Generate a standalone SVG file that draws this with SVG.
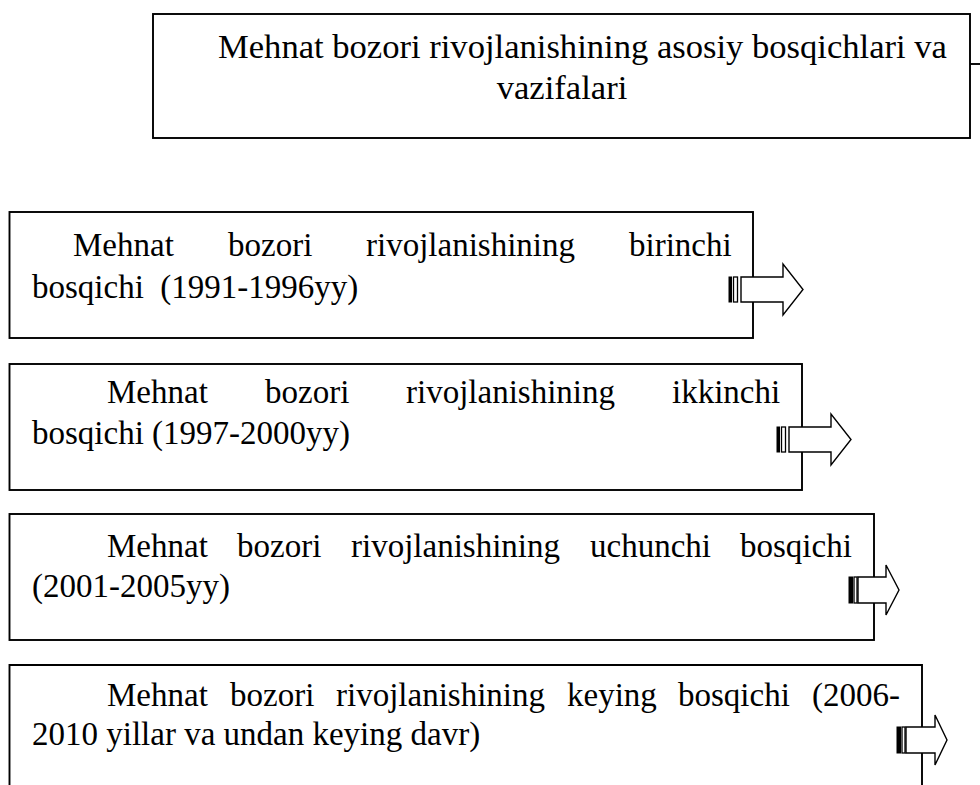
<svg xmlns="http://www.w3.org/2000/svg" width="980" height="785" viewBox="0 0 980 785">
<style>
.box{fill:#fff;stroke:#000;stroke-width:1.9}
.t{font-family:"Liberation Serif","Times New Roman",Times,serif;font-size:33px;fill:#000}
.title{font-family:"Liberation Serif","Times New Roman",Times,serif;font-size:34.6px;fill:#000}
.arr{fill:#fff;stroke:#000;stroke-width:1.4;stroke-linejoin:miter}
.bar{fill:#000;stroke:#000;stroke-width:1}
.bar2{fill:#fff;stroke:#000;stroke-width:1.3}
.ln{fill:none;stroke:#000;stroke-width:1.9}
</style>
<rect width="980" height="785" fill="#fff"/>
<g id="title">
<rect class="box" x="153" y="14" width="817" height="124"/>
<text class="title" x="218" y="58">Mehnat bozori rivojlanishining asosiy bosqichlari va</text>
<text class="title" x="562" y="99" text-anchor="middle">vazifalari</text>
</g>
<g id="stage1">
<rect class="box" x="9.5" y="212" width="743.5" height="126"/>
<text class="t" y="256"><tspan x="73">Mehnat</tspan><tspan x="228">bozori</tspan><tspan x="366">rivojlanishining</tspan><tspan x="629">birinchi</tspan></text>
<text class="t" x="32" y="298" style="white-space:pre">bosqichi  (1991-1996yy)</text>
</g>
<g id="stage2">
<rect class="box" x="9.5" y="364" width="792.5" height="126"/>
<text class="t" y="403"><tspan x="107">Mehnat</tspan><tspan x="265">bozori</tspan><tspan x="406">rivojlanishining</tspan><tspan x="672">ikkinchi</tspan></text>
<text class="t" x="32" y="444">bosqichi (1997-2000yy)</text>
</g>
<g id="stage3">
<rect class="box" x="9.5" y="514" width="864.5" height="126"/>
<text class="t" y="557"><tspan x="107">Mehnat</tspan><tspan x="237">bozori</tspan><tspan x="351">rivojlanishining</tspan><tspan x="590">uchunchi</tspan><tspan x="740">bosqichi</tspan></text>
<text class="t" x="32" y="597">(2001-2005yy)</text>
</g>
<g id="stage4">
<path class="ln" d="M9.5,785 V665 H922 V785"/>
<text class="t" y="706"><tspan x="107">Mehnat</tspan><tspan x="230">bozori</tspan><tspan x="336">rivojlanishining</tspan><tspan x="567">keying</tspan><tspan x="678">bosqichi</tspan><tspan x="812">(2006-</tspan></text>
<text class="t" x="32" y="745">2010 yillar va undan keying davr)</text>
</g>
<g id="connectors">
<line class="ln" x1="970" y1="64" x2="980" y2="64"/>
<g id="arrow1">
<rect class="bar" x="729" y="277" width="2.5" height="25"/>
<rect class="bar2" x="733.5" y="277" width="4" height="25"/>
<polygon class="arr" points="741,277 783,277 783,264 803,289.5 783,315 783,302 741,302"/>
</g>
<g id="arrow2">
<rect class="bar" x="777" y="427" width="2.5" height="25"/>
<rect class="bar2" x="781.5" y="427" width="4" height="25"/>
<polygon class="arr" points="789,427 831,427 831,414 851,439.5 831,465 831,452 789,452"/>
</g>
<g id="arrow3">
<rect class="bar" x="849" y="577" width="3.5" height="26"/>
<rect class="bar2" x="854" y="577" width="3" height="26"/>
<polygon class="arr" points="858,577 886,577 886,565 899,590 886,615 886,603 858,603"/>
</g>
<g id="arrow4">
<rect class="bar" x="897" y="727" width="3.5" height="26"/>
<rect class="bar2" x="902" y="727" width="3" height="26"/>
<polygon class="arr" points="906,727 935,727 935,715 947,740 935,765 935,753 906,753"/>
</g>
</g>
</svg>
